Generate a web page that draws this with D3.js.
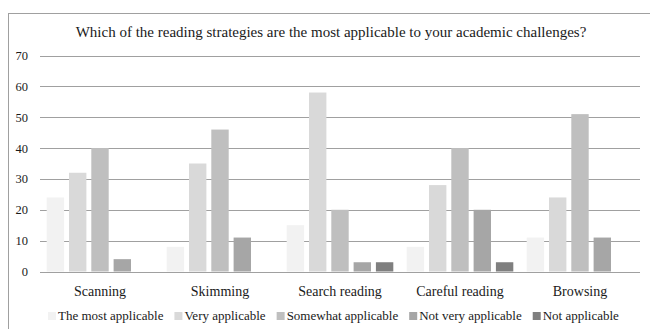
<!DOCTYPE html>
<html>
<head>
<meta charset="utf-8">
<script src="https://cdn.jsdelivr.net/npm/d3@7"></script>
<style>
  html, body { margin: 0; padding: 0; background: #fff; }
  svg { display: block; }
</style>
</head>
<body>
<svg id="chart" width="650" height="329" font-family="'Liberation Serif', 'DejaVu Serif', serif"></svg>
<script>
const title = "Which of the reading strategies are the most applicable to your academic challenges?";
const categories = ["Scanning", "Skimming", "Search reading", "Careful reading", "Browsing"];
const seriesNames = ["The most applicable", "Very applicable", "Somewhat applicable", "Not very applicable", "Not applicable"];
const mostApplicable     = [24, 8, 15, 8, 11];
const veryApplicable     = [32, 35, 58, 28, 24];
const somewhatApplicable = [40, 46, 20, 40, 51];
const notVeryApplicable  = [4, 11, 3, 20, 11];
const notApplicable      = [0, 0, 3, 3, 0];
const yTicks = [0, 10, 20, 30, 40, 50, 60, 70];
const colors = ["#f2f2f2", "#d9d9d9", "#bfbfbf", "#a6a6a6", "#7f7f7f"];

const seriesValues = [mostApplicable, veryApplicable, somewhatApplicable, notVeryApplicable, notApplicable];
const FONT = "'Liberation Serif', 'DejaVu Serif', serif";
const INK = "#1a1a1a";

const svg = d3.select("#chart");
const plot = { left: 40, right: 640, top: 55.5, bottom: 271.5 };

// outer chart frame
svg.append("rect")
  .attr("x", 8.5).attr("y", 13.5)
  .attr("width", 700).attr("height", 400)
  .attr("fill", "none").attr("stroke", "#a0a0a0").attr("stroke-width", 1);

svg.append("text")
  .attr("x", 331).attr("y", 37)
  .attr("text-anchor", "middle")
  .attr("font-family", FONT).attr("font-size", 15).attr("fill", INK)
  .text(title);

const x0 = d3.scaleBand().domain(categories).range([plot.left, plot.right]).padding(0);
const x1 = d3.scaleBand().domain(seriesNames).range([0, x0.bandwidth()])
  .paddingInner(0.22).paddingOuter(0.3);
const y = d3.scaleLinear().domain([0, 70]).range([plot.bottom, plot.top]);

// gridlines
svg.append("g").selectAll("line").data(yTicks.filter(t => t > 0)).join("line")
  .attr("x1", plot.left).attr("x2", plot.right)
  .attr("y1", d => Math.round(y(d)) + 0.5).attr("y2", d => Math.round(y(d)) + 0.5)
  .attr("stroke", "#a0a0a0").attr("stroke-width", 1);

// y axis labels
const yAxis = d3.axisLeft(y).tickValues(yTicks).tickSize(0).tickPadding(0);
const yg = svg.append("g").attr("transform", `translate(${plot.left - 12},0)`).call(yAxis)
  .attr("font-family", FONT).attr("font-size", 12.5);
yg.select(".domain").remove();
yg.selectAll("text").attr("fill", INK);

// bars
const groups = svg.append("g").selectAll("g").data(categories).join("g")
  .attr("transform", d => `translate(${x0(d)},0)`);
groups.selectAll("rect")
  .data((c, ci) => seriesNames.map((s, si) => ({ s, si, v: seriesValues[si][ci] })))
  .join("rect")
  .attr("x", d => x1(d.s))
  .attr("width", x1.bandwidth())
  .attr("y", d => y(d.v))
  .attr("height", d => y(0) - y(d.v))
  .attr("fill", d => colors[d.si]);

// category axis
const xAxis = d3.axisBottom(x0).tickSize(0).tickPadding(0);
const xg = svg.append("g").attr("transform", `translate(0,${Math.round(plot.bottom) + 0.5})`).call(xAxis)
  .attr("font-family", FONT).attr("font-size", 14);
xg.select(".domain").attr("stroke", "#a0a0a0").attr("d", `M${plot.left},0H${plot.right}`);
xg.selectAll("text").attr("dy", null).attr("y", 23).attr("fill", INK);

// legend
const legend = svg.append("g").attr("transform", "translate(0,320)")
  .attr("font-family", FONT).attr("font-size", 13);
const items = legend.selectAll("g").data(seriesNames).join("g");
items.append("rect").attr("y", -8).attr("width", 8).attr("height", 8).attr("fill", (d, i) => colors[i]);
items.append("text").attr("x", 10).attr("y", 0).attr("fill", INK).text(d => d);
let lx = 48;
items.each(function () {
  const g = d3.select(this);
  g.attr("transform", `translate(${lx},0)`);
  lx += 10 + g.select("text").node().getComputedTextLength() + 11;
});
</script>
</body>
</html>
